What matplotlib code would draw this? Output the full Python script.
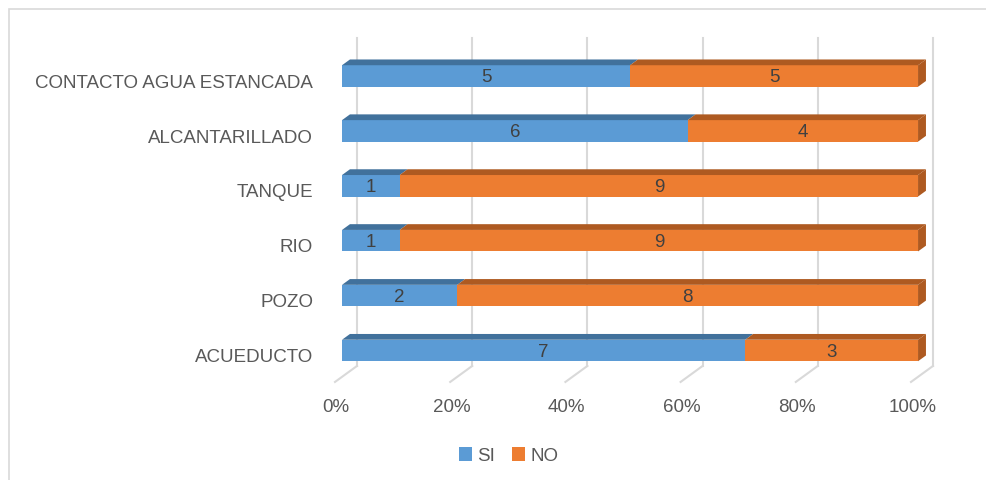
import matplotlib.pyplot as plt
from matplotlib.patches import Polygon, Rectangle, Patch

# data
categories = ["ACUEDUCTO", "POZO", "RIO", "TANQUE", "ALCANTARILLADO",
              "CONTACTO AGUA ESTANCADA"]
si = [7, 2, 1, 1, 6, 5]
no = [3, 8, 9, 9, 4, 5]
x_ticks = [0, 0.2, 0.4, 0.6, 0.8, 1.0]
x_tick_labels = ["0%", "20%", "40%", "60%", "80%", "100%"]

# colours
blue, blue_dark = "#5B9BD5", "#41719C"
orange, orange_dark = "#ED7D31", "#AE5A21"
grid_col = "#D9D9D9"
txt_col = "#595959"

plt.rcParams["font.family"] = ["Liberation Sans", "DejaVu Sans"]

W, H = 986, 480
fig = plt.figure(figsize=(W / 100, H / 100), dpi=100)
ax = fig.add_axes([0, 0, 1, 1])

# pixel scale of the chart area
px_x = 576.0  # px per 100%
px_y = 54.9   # px per category
x0_px, y0_px = 335.0, 355.6
ax.set_xlim(-x0_px / px_x, (W - x0_px) / px_x)
ax.set_ylim(-(H - y0_px) / px_y, y0_px / px_y)
ax.axis("off")

# oblique depth (full depth of the plot box)
DX = 22.0 / px_x
DY = 16.0 / px_y
d0, d1 = 0.32, 0.68
bar_h = 21.5 / px_y
y_floor = -0.48
y_top = 5.49

# back wall + floor gridlines
for v in x_ticks:
    ax.plot([v, v + DX], [y_floor, y_floor + DY], color=grid_col, lw=1.5, zorder=1)
    ax.plot([v + DX, v + DX], [y_floor + DY, y_top + DY], color=grid_col, lw=1.5,
            zorder=1)

# bars
for i, (a, b) in enumerate(zip(si, no)):
    tot = a + b
    segs = [(0, a / tot, blue, blue_dark, a), (a / tot, 1.0, orange, orange_dark, b)]
    for l, r, c, cd, val in segs:
        yb = i - bar_h / 2
        yt = i + bar_h / 2
        ax.add_patch(Rectangle((l + d0 * DX, yb + d0 * DY), r - l, bar_h,
                               facecolor=c, edgecolor="none", zorder=3))
        ax.add_patch(Polygon([(l + d0 * DX, yt + d0 * DY), (l + d1 * DX, yt + d1 * DY),
                              (r + d1 * DX, yt + d1 * DY), (r + d0 * DX, yt + d0 * DY)],
                             facecolor=cd, edgecolor="none", zorder=3))
        if r == 1.0:
            ax.add_patch(Polygon([(r + d0 * DX, yt + d0 * DY), (r + d1 * DX, yt + d1 * DY),
                                  (r + d1 * DX, yb + d1 * DY), (r + d0 * DX, yb + d0 * DY)],
                                 facecolor=cd, edgecolor="none", zorder=3))
        ax.text((l + r) / 2 + d0 * DX, i + d0 * DY, str(val), ha="center",
                va="center_baseline", fontsize=13.5, color="#404040", zorder=4)
    ax.text(-22.0 / px_x, i, categories[i], ha="right", va="center_baseline",
            fontsize=13.5, color=txt_col)

for v, lab in zip(x_ticks, x_tick_labels):
    ax.text(v + 0.002, -0.94, lab, ha="center", va="center", fontsize=13.5,
            color=txt_col)

# chart border (left and top visible)
ax.add_patch(Rectangle((9 / W, -0.5), 2, 1 - 9 / H + 0.5, transform=ax.transAxes,
                       fill=False, edgecolor=grid_col, lw=1.2, clip_on=False))

handles = [Patch(facecolor=blue, label="SI"), Patch(facecolor=orange, label="NO")]
fig.legend(handles=handles, loc="center", bbox_to_anchor=(0.516, 0.05), ncol=2,
           frameon=False, fontsize=13.5, handlelength=0.7, handleheight=0.7,
           handletextpad=0.3, columnspacing=0.9, labelcolor=txt_col)

fig.savefig("out.png", dpi=100)
